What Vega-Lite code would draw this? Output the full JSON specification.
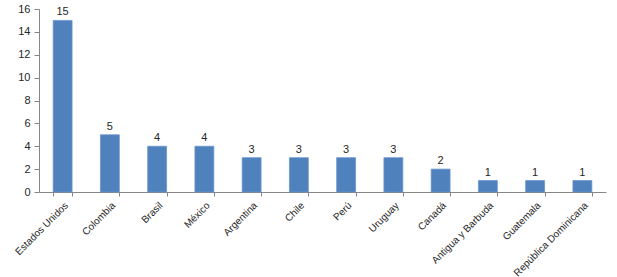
{
  "$schema": "https://vega.github.io/schema/vega-lite/v6.json",
  "autosize": "none",
  "width": 567,
  "height": 183,
  "padding": {"left": 39, "top": 9, "right": 11, "bottom": 85},
  "background": "white",
  "config": {
    "view": {"stroke": null},
    "font": "Liberation Sans",
    "axis": {"labelFont": "Liberation Sans", "labelFontSize": 10, "labelColor": "#262626", "domainColor": "#868686", "tickColor": "#868686", "grid": false, "title": null}
  },
  "data": {
    "values": [
      {"pais": "Estados Unidos", "valor": 15},
      {"pais": "Colombia", "valor": 5},
      {"pais": "Brasil", "valor": 4},
      {"pais": "México", "valor": 4},
      {"pais": "Argentina", "valor": 3},
      {"pais": "Chile", "valor": 3},
      {"pais": "Perú", "valor": 3},
      {"pais": "Uruguay", "valor": 3},
      {"pais": "Canadá", "valor": 2},
      {"pais": "Antigua y Barbuda", "valor": 1},
      {"pais": "Guatemala", "valor": 1},
      {"pais": "República Dominicana", "valor": 1}
    ]
  },
  "encoding": {
    "x": {"field": "pais", "type": "nominal", "sort": null,
      "scale": {"paddingInner": 0.6, "paddingOuter": 0.3},
      "axis": {"labelAngle": -45, "tickBand": "extent", "tickSize": 4, "labelPadding": 4}},
    "y": {"field": "valor", "type": "quantitative",
      "scale": {"domain": [0, 16], "nice": false},
      "axis": {"values": [0, 2, 4, 6, 8, 10, 12, 14, 16], "tickSize": 5, "labelPadding": 4, "labelFontSize": 11}}
  },
  "layer": [
    {"mark": {"type": "bar", "color": "#4F81BD", "stroke": "#6A96CC", "strokeWidth": 0.8}},
    {"mark": {"type": "text", "dy": -8, "fontSize": 11, "color": "#262626", "font": "Liberation Sans"},
     "encoding": {"text": {"field": "valor", "type": "quantitative"}}}
  ]
}
